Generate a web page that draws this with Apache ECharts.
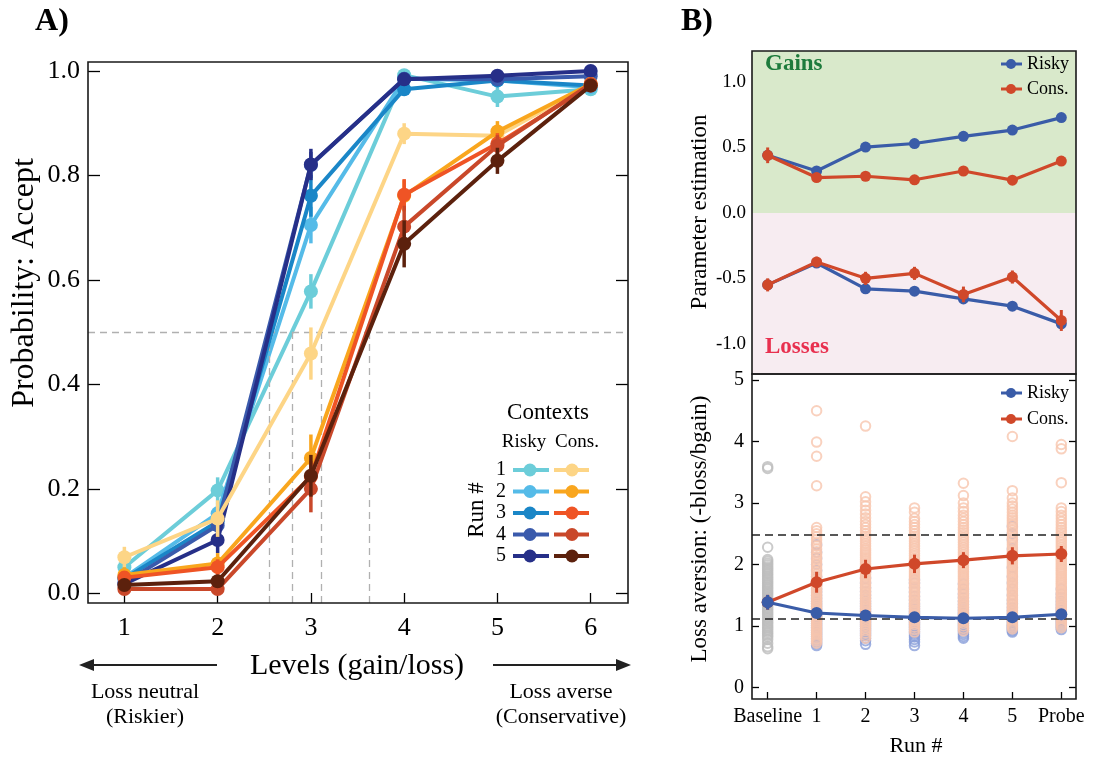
<!DOCTYPE html>
<html>
<head>
<meta charset="utf-8">
<script src="https://cdn.jsdelivr.net/npm/echarts@6/dist/echarts.min.js"></script>
<style>html,body{margin:0;padding:0;background:#fff}#c{width:1093px;height:757px}</style>
</head>
<body>
<div id="c"></div>
<script>
// ---------- Panel A data ----------
const levels = [1, 2, 3, 4, 5, 6];
const riskyA1 = [0.05, 0.197, 0.578, 0.992, 0.951, 0.965];
const riskyA2 = [0.03, 0.153, 0.705, 0.985, 0.982, 0.969];
const riskyA3 = [0.028, 0.137, 0.761, 0.965, 0.982, 0.972];
const riskyA4 = [0.02, 0.13, 0.82, 0.985, 0.984, 0.99];
const riskyA5 = [0.018, 0.102, 0.821, 0.984, 0.991, 1.0];
const consA1 = [0.069, 0.143, 0.459, 0.88, 0.876, 0.975];
const consA2 = [0.035, 0.057, 0.259, 0.761, 0.884, 0.975];
const consA3 = [0.03, 0.05, 0.223, 0.763, 0.861, 0.972];
const consA4 = [0.008, 0.008, 0.2, 0.702, 0.857, 0.975];
const consA5 = [0.016, 0.023, 0.225, 0.669, 0.828, 0.972];
const riskyAErr1 = [0.02, 0.025, 0.033, 0.01, 0.02, 0.01];
const riskyAErr2 = [0.012, 0.02, 0.035, 0.01, 0.01, 0.01];
const riskyAErr3 = [0.01, 0.02, 0.04, 0.012, 0.01, 0.01];
const riskyAErr4 = [0.01, 0.02, 0.025, 0.01, 0.01, 0.01];
const riskyAErr5 = [0.01, 0.025, 0.03, 0.01, 0.01, 0.01];
const consAErr1 = [0.02, 0.035, 0.05, 0.02, 0.01, 0.01];
const consAErr2 = [0.015, 0.02, 0.045, 0.03, 0.02, 0.01];
const consAErr3 = [0.01, 0.015, 0.03, 0.03, 0.02, 0.01];
const consAErr4 = [0.01, 0.01, 0.045, 0.04, 0.02, 0.01];
const consAErr5 = [0.01, 0.01, 0.04, 0.045, 0.025, 0.01];
const crossPoints = [2.553, 2.805, 3.114, 3.63];
const yTicksA = [0, 0.2, 0.4, 0.6, 0.8, 1.0];

// ---------- Panel B data ----------
const runs = ['Baseline', '1', '2', '3', '4', '5', 'Probe'];
const riskyGain = [0.44, 0.32, 0.503, 0.53, 0.585, 0.633, 0.728];
const consGain = [0.44, 0.27, 0.28, 0.253, 0.32, 0.25, 0.396];
const riskyLoss = [-0.55, -0.383, -0.58, -0.598, -0.657, -0.713, -0.848];
const consLoss = [-0.55, -0.375, -0.50, -0.462, -0.623, -0.49, -0.822];
const riskyGainErr = [0.02, 0.02, 0.015, 0.015, 0.015, 0.015, 0.02];
const consGainErr = [0.06, 0.03, 0.03, 0.02, 0.03, 0.02, 0.03];
const riskyLossErr = [0.03, 0.03, 0.02, 0.02, 0.02, 0.02, 0.03];
const consLossErr = [0.05, 0.04, 0.05, 0.05, 0.06, 0.05, 0.08];
const yTicksB1 = [-1, -0.5, 0, 0.5, 1];

const riskyLA = [1.385, 1.21, 1.17, 1.14, 1.125, 1.14, 1.19];
const consLA = [1.385, 1.71, 1.926, 2.01, 2.07, 2.14, 2.17];
const riskyLAErr = [0.12, 0.04, 0.04, 0.04, 0.03, 0.04, 0.05];
const consLAErr = [0.12, 0.17, 0.15, 0.15, 0.13, 0.14, 0.13];
const refLines = [2.49, 1.115];
const yTicksB2 = [0, 1, 2, 3, 4, 5];

// individual participants (loss aversion)
const baselineAll = [0.63,0.66,0.72,0.78,0.82,0.85,0.88,0.91,0.94,0.97,1.0,1.03,1.06,1.09,1.12,1.15,1.18,1.21,1.24,1.27,1.3,1.33,1.36,1.39,1.42,1.45,1.48,1.51,1.54,1.57,1.6,1.63,1.66,1.69,1.72,1.75,1.78,1.81,1.84,1.87,1.9,1.93,1.96,1.99,2.02,2.05,2.08,2.28,3.56,3.59];
const riskyRun1 = [0.68,0.71,0.74,0.77,0.8,0.83,0.86,0.89,0.92,0.95,0.98,1.01,1.04,1.07,1.1,1.13,1.16,1.19,1.22,1.25,1.28,1.32,1.36,1.4,1.45,1.5,1.55,1.6,1.66,1.72,1.8,1.9,2.0,2.1,2.2,2.32];
const consRun1 = [0.72,0.75,0.78,0.8,0.83,0.86,0.89,0.92,0.95,0.98,1.01,1.04,1.07,1.1,1.13,1.16,1.19,1.22,1.25,1.28,1.31,1.34,1.37,1.4,1.43,1.46,1.49,1.52,1.55,1.58,1.61,1.64,1.67,1.7,1.73,1.76,1.8,1.84,1.88,1.92,1.96,2.0,2.04,2.08,2.12,2.16,2.2,2.25,2.3,2.35,2.4,2.45,2.5,2.55,2.6,3.28,3.76,3.99,4.5];
const riskyRun2 = [0.7,0.76,0.8,0.84,0.87,0.9,0.93,0.96,0.99,1.02,1.05,1.08,1.11,1.14,1.17,1.2,1.24,1.28,1.32,1.36,1.4,1.45,1.5,1.56,1.62,1.7,1.78,1.88];
const consRun2 = [0.8,0.84,0.88,0.92,0.96,1.0,1.03,1.06,1.09,1.12,1.15,1.18,1.21,1.24,1.27,1.3,1.33,1.36,1.39,1.42,1.45,1.48,1.51,1.54,1.57,1.6,1.63,1.66,1.69,1.72,1.75,1.78,1.81,1.84,1.87,1.9,1.93,1.96,1.99,2.02,2.05,2.08,2.11,2.14,2.17,2.2,2.23,2.26,2.3,2.34,2.38,2.42,2.46,2.5,2.55,2.6,2.65,2.7,2.76,2.82,2.88,2.95,3.02,3.1,4.25];
const riskyRun3 = [0.68,0.74,0.78,0.82,0.85,0.88,0.91,0.94,0.97,1.0,1.03,1.06,1.09,1.12,1.15,1.18,1.21,1.24,1.28,1.32,1.36,1.42,1.48,1.55,1.62,1.7,1.75];
const consRun3 = [0.9,0.94,0.98,1.02,1.05,1.08,1.11,1.14,1.17,1.2,1.23,1.26,1.29,1.32,1.35,1.38,1.41,1.44,1.47,1.5,1.53,1.56,1.59,1.62,1.65,1.68,1.71,1.74,1.77,1.8,1.83,1.86,1.89,1.92,1.95,1.98,2.01,2.04,2.07,2.1,2.14,2.18,2.22,2.26,2.3,2.34,2.38,2.42,2.46,2.5,2.55,2.6,2.65,2.7,2.75,2.85,2.92];
const riskyRun4 = [0.8,0.83,0.86,0.89,0.92,0.95,0.98,1.01,1.04,1.07,1.1,1.13,1.16,1.19,1.22,1.26,1.3,1.35,1.4,1.46,1.52,1.6,1.68];
const consRun4 = [0.92,0.96,1.0,1.04,1.08,1.11,1.14,1.17,1.2,1.23,1.26,1.29,1.32,1.35,1.38,1.41,1.44,1.47,1.5,1.53,1.56,1.59,1.62,1.65,1.68,1.71,1.74,1.77,1.8,1.83,1.86,1.89,1.92,1.95,1.98,2.01,2.04,2.07,2.1,2.13,2.16,2.2,2.24,2.28,2.32,2.36,2.4,2.44,2.48,2.52,2.56,2.6,2.65,2.7,2.75,2.8,2.86,2.92,3.0,3.12,3.32];
const riskyRun5 = [0.9,0.92,0.94,0.96,0.98,1.0,1.02,1.05,1.08,1.11,1.14,1.17,1.2,1.25,1.3,1.36,1.42,1.5,1.6,1.7,1.8,1.95,2.1,2.25,2.4,2.5,2.62];
const consRun5 = [0.95,0.98,1.01,1.04,1.07,1.1,1.13,1.16,1.19,1.22,1.25,1.28,1.31,1.34,1.37,1.4,1.43,1.46,1.49,1.52,1.55,1.58,1.61,1.64,1.67,1.7,1.73,1.76,1.79,1.82,1.85,1.88,1.91,1.94,1.97,2.0,2.03,2.06,2.09,2.12,2.15,2.18,2.21,2.24,2.28,2.32,2.36,2.4,2.44,2.48,2.52,2.56,2.6,2.64,2.68,2.72,2.76,2.8,2.85,2.9,2.95,3.0,3.08,3.2,4.08];
const riskyProbe = [0.94,0.97,1.0,1.03,1.06,1.09,1.12,1.15,1.18,1.22,1.26,1.3,1.35,1.4,1.46,1.52,1.6];
const consProbe = [0.97,1.0,1.03,1.06,1.09,1.12,1.15,1.18,1.21,1.24,1.27,1.3,1.33,1.36,1.39,1.42,1.45,1.48,1.51,1.54,1.57,1.6,1.63,1.66,1.69,1.72,1.75,1.78,1.81,1.84,1.87,1.9,1.93,1.96,1.99,2.02,2.05,2.08,2.11,2.14,2.17,2.2,2.24,2.28,2.32,2.36,2.4,2.44,2.48,2.52,2.56,2.6,2.65,2.7,2.75,2.8,2.86,2.92,3.33,3.88,3.95];

// ---------- styles ----------
const FONT = 'Liberation Serif';
const riskyColors = ['#6ccdd9', '#55bbe8', '#1a86c7', '#3a5aac', '#262f88'];
const consColors = ['#fdd586', '#f9a61e', '#ef5425', '#c9482a', '#5c210d'];
const BLUE = '#3a5ca8', RED = '#d0482a';

const riskyA = [riskyA1, riskyA2, riskyA3, riskyA4, riskyA5];
const consA = [consA1, consA2, consA3, consA4, consA5];
const riskyAErr = [riskyAErr1, riskyAErr2, riskyAErr3, riskyAErr4, riskyAErr5];
const consAErr = [consAErr1, consAErr2, consAErr3, consAErr4, consAErr5];

function errRender(color, width) {
  return function (params, api) {
    const x = api.value(0), y = api.value(1), e = api.value(2);
    const p1 = api.coord([x, y - e]), p2 = api.coord([x, y + e]);
    return { type: 'line', shape: { x1: p1[0], y1: p1[1], x2: p2[0], y2: p2[1] },
      style: { stroke: color, lineWidth: width } };
  };
}

const series = [];
// Panel A dashed guides
series.push({
  type: 'line', xAxisIndex: 0, yAxisIndex: 0, data: [], z: 1, silent: true,
  markLine: {
    silent: true, symbol: 'none', label: { show: false },
    lineStyle: { color: '#b0b0b0', type: [7, 5], width: 1.3 },
    data: [{ yAxis: 0.5 }].concat(crossPoints.map(c => [{ coord: [c, -0.0186] }, { coord: [c, 0.5] }]))
  }
});
function addA(vals, errs, color, z) {
  series.push({
    type: 'line', xAxisIndex: 0, yAxisIndex: 0, z: z,
    data: levels.map((l, i) => [l, vals[i]]),
    symbol: 'circle', symbolSize: 14, showSymbol: true,
    lineStyle: { color: color, width: 4 }, itemStyle: { color: color }
  });
  series.push({
    type: 'custom', xAxisIndex: 0, yAxisIndex: 0, z: z,
    data: levels.map((l, i) => [l, vals[i], errs[i]]),
    renderItem: errRender(color, 3.5), encode: { x: 0, y: 1 }
  });
}
riskyA.forEach((v, i) => addA(v, riskyAErr[i], riskyColors[i], 3 + i));
consA.forEach((v, i) => addA(v, consAErr[i], consColors[i], 8 + i));

// Panel B top
series.push({
  type: 'line', xAxisIndex: 1, yAxisIndex: 2, data: [], z: 0, silent: true,
  markArea: {
    silent: true,
    data: [
      [{ yAxis: 0, itemStyle: { color: '#d9e9cb' } }, { yAxis: 1.237 }],
      [{ yAxis: -1.231, itemStyle: { color: '#f7ecf1' } }, { yAxis: 0 }]
    ]
  }
});
function addB(gridX, gridY, vals, errs, color, z, ss) {
  series.push({
    type: 'line', xAxisIndex: gridX, yAxisIndex: gridY, z: z,
    data: runs.map((r, i) => [i, vals[i]]),
    symbol: 'circle', symbolSize: ss, lineStyle: { color: color, width: 3.2 }, itemStyle: { color: color }
  });
  series.push({
    type: 'custom', xAxisIndex: gridX, yAxisIndex: gridY, z: z,
    data: runs.map((r, i) => [i, vals[i], errs[i]]),
    renderItem: errRender(color, 3), encode: { x: 0, y: 1 }
  });
}
addB(1, 2, riskyGain, riskyGainErr, BLUE, 3, 11);
addB(1, 2, riskyLoss, riskyLossErr, BLUE, 3, 11);
addB(1, 2, consGain, consGainErr, RED, 4, 11);
addB(1, 2, consLoss, consLossErr, RED, 4, 11);

// Panel B bottom: individuals
function pts(arr, idx) { return arr.map(v => [idx, v]); }
const riskyInd = [].concat(pts(riskyRun1, 1), pts(riskyRun2, 2), pts(riskyRun3, 3), pts(riskyRun4, 4), pts(riskyRun5, 5), pts(riskyProbe, 6));
const consInd = [].concat(pts(consRun1, 1), pts(consRun2, 2), pts(consRun3, 3), pts(consRun4, 4), pts(consRun5, 5), pts(consProbe, 6));
function scat(data, color, z) {
  series.push({
    type: 'scatter', xAxisIndex: 2, yAxisIndex: 4, z: z, data: data, symbol: 'circle', symbolSize: 9.5,
    itemStyle: { color: 'rgba(0,0,0,0)', borderColor: color, borderWidth: 2 }
  });
}
scat(pts(baselineAll, 0), '#bdbdbd', 1);
scat(riskyInd, '#8a9fd9', 1);
scat(consInd, '#f8c6ae', 2);
series.push({
  type: 'line', xAxisIndex: 2, yAxisIndex: 4, data: [], z: 3, silent: true,
  markLine: {
    silent: true, symbol: 'none', label: { show: false },
    lineStyle: { color: '#222', type: [8, 5], width: 1.5 },
    data: refLines.map(v => ({ yAxis: v }))
  }
});
addB(2, 4, consLA, consLAErr, RED, 4, 12);
addB(2, 4, riskyLA, riskyLAErr, BLUE, 5, 12);

// ---------- axes ----------
const tickTxt = { color: '#000', fontFamily: FONT };
const noLine = { show: false, onZero: false };
function yAx(grid, min, max, ticks, pos, showLabel, fmt, size, len, margin) {
  return {
    type: 'value', gridIndex: grid, min: min, max: max, position: pos,
    splitLine: { show: false }, axisLine: noLine,
    axisTick: { show: true, inside: true, length: len, customValues: ticks, lineStyle: { color: '#000', width: 1.3 } },
    axisLabel: { show: showLabel, customValues: ticks, formatter: fmt, fontSize: size, margin: margin, ...tickTxt }
  };
}
const xAxes = [
  { type: 'value', gridIndex: 0, min: 0.61, max: 6.4, position: 'bottom', splitLine: { show: false }, axisLine: noLine,
    axisTick: { inside: true, length: 10, customValues: levels, lineStyle: { color: '#000', width: 1.3 } },
    axisLabel: { customValues: levels, fontSize: 26, margin: 12, ...tickTxt } },
  { type: 'value', gridIndex: 1, min: -0.32, max: 6.3, position: 'bottom', splitLine: { show: false }, axisLine: noLine,
    axisTick: { inside: true, length: 7, customValues: [0,1,2,3,4,5,6], lineStyle: { color: '#000', width: 1.3 } },
    axisLabel: { show: false } },
  { type: 'value', gridIndex: 2, min: -0.32, max: 6.3, position: 'bottom', splitLine: { show: false }, axisLine: noLine,
    axisTick: { inside: true, length: 7, customValues: [0,1,2,3,4,5,6], lineStyle: { color: '#000', width: 1.3 } },
    axisLabel: { customValues: [0,1,2,3,4,5,6], formatter: v => runs[Math.round(v)], fontSize: 20, margin: 8, ...tickTxt } }
];
const f1 = v => Number(v).toFixed(1);
const f0 = v => String(Math.round(v));
const yAxes = [
  yAx(0, -0.0186, 1.0172, yTicksA, 'left', true, f1, 26, 12, 8),
  yAx(0, -0.0186, 1.0172, yTicksA, 'right', false, f1, 26, 12, 8),
  yAx(1, -1.231, 1.237, yTicksB1, 'left', true, f1, 19, 7, 6),
  yAx(1, -1.231, 1.237, yTicksB1, 'right', false, f1, 19, 7, 6),
  yAx(2, -0.1885, 5.0975, yTicksB2, 'left', true, f0, 20, 7, 8),
  yAx(2, -0.1885, 5.0975, yTicksB2, 'right', false, f0, 20, 7, 8)
];

// ---------- graphics (labels, legends, frames) ----------
const g = [];
function txt(x, y, s, size, opts) {
  opts = opts || {};
  g.push({
    type: 'text', x: x, y: y, rotation: opts.rot || 0, z: 50,
    style: { text: s, fontFamily: FONT, fontSize: size, fontWeight: opts.bold ? 'bold' : 'normal',
      fill: opts.color || '#000', align: opts.align || 'center', verticalAlign: 'middle' }
  });
}
function frame(x, y, w, h) {
  g.push({ type: 'rect', z: 60, shape: { x: x, y: y, width: w, height: h }, style: { fill: null, stroke: '#1a1a1a', lineWidth: 1.6 } });
}
frame(88, 62, 540, 541);
frame(752, 51, 324, 323);
frame(752, 374, 324, 325);

txt(52, 22, 'A)', 32, { bold: true });
txt(697, 22, 'B)', 32, { bold: true });
txt(25, 283, 'Probability: Accept', 32, { rot: Math.PI / 2 });
txt(357, 666, 'Levels (gain/loss)', 30);
txt(145, 692, 'Loss neutral', 22);
txt(145, 717, '(Riskier)', 22);
txt(561, 692, 'Loss averse', 22);
txt(561, 717, '(Conservative)', 22);
// arrows
g.push({ type: 'line', z: 50, shape: { x1: 88, y1: 665, x2: 217, y2: 665 }, style: { stroke: '#222', lineWidth: 2 } });
g.push({ type: 'polygon', z: 50, shape: { points: [[79, 665], [94, 659], [94, 671]] }, style: { fill: '#222' } });
g.push({ type: 'line', z: 50, shape: { x1: 493, y1: 665, x2: 620, y2: 665 }, style: { stroke: '#222', lineWidth: 2 } });
g.push({ type: 'polygon', z: 50, shape: { points: [[631, 665], [616, 659], [616, 671]] }, style: { fill: '#222' } });

// Panel A legend
txt(548, 413, 'Contexts', 23);
txt(524, 442, 'Risky', 19);
txt(577, 442, 'Cons.', 19);
txt(477, 510, 'Run #', 23, { rot: Math.PI / 2 });
for (let i = 0; i < 5; i++) {
  const y = 470 + i * 21.5;
  txt(501, y, String(i + 1), 20);
  g.push({ type: 'line', z: 50, shape: { x1: 513, y1: y, x2: 549, y2: y }, style: { stroke: riskyColors[i], lineWidth: 4 } });
  g.push({ type: 'circle', z: 51, shape: { cx: 530, cy: y, r: 6.5 }, style: { fill: riskyColors[i] } });
  g.push({ type: 'line', z: 50, shape: { x1: 554, y1: y, x2: 589, y2: y }, style: { stroke: consColors[i], lineWidth: 4 } });
  g.push({ type: 'circle', z: 51, shape: { cx: 572, cy: y, r: 6.5 }, style: { fill: consColors[i] } });
}

// Panel B labels
txt(700, 212, 'Parameter estimation', 23, { rot: Math.PI / 2 });
txt(700, 529, 'Loss aversion: (-bloss/bgain)', 23, { rot: Math.PI / 2 });
txt(916, 746, 'Run #', 22);
txt(765, 64, 'Gains', 23, { bold: true, color: '#1e7b3c', align: 'left' });
txt(765, 347, 'Losses', 23, { bold: true, color: '#e8304f', align: 'left' });
function legB(y, color, label) {
  g.push({ type: 'line', z: 50, shape: { x1: 1001, y1: y, x2: 1022, y2: y }, style: { stroke: color, lineWidth: 3 } });
  g.push({ type: 'circle', z: 51, shape: { cx: 1011, cy: y, r: 5 }, style: { fill: color } });
  txt(1027, y, label, 18, { align: 'left' });
}
legB(64, BLUE, 'Risky');
legB(89, RED, 'Cons.');
legB(393, BLUE, 'Risky');
legB(419, RED, 'Cons.');

const chart = echarts.init(document.getElementById('c'), null, { renderer: 'canvas' });
chart.setOption({
  animation: false,
  backgroundColor: '#fff',
  grid: [
    { left: 88, top: 62, width: 540, height: 541 },
    { left: 752, top: 51, width: 324, height: 323 },
    { left: 752, top: 374, width: 324, height: 325 }
  ],
  xAxis: xAxes,
  yAxis: yAxes,
  series: series,
  graphic: g
});
</script>
</body>
</html>
